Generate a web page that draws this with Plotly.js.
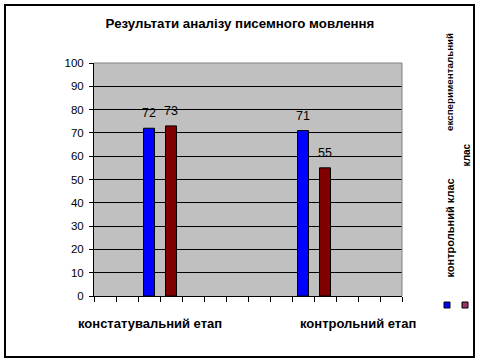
<!DOCTYPE html>
<html>
<head>
<meta charset="utf-8">
<script src="https://cdn.plot.ly/plotly-3.0.1.min.js"></script>
<style>
html,body{margin:0;padding:0;background:#fff;}
#chart{width:480px;height:363px;}
</style>
</head>
<body>
<div id="chart"></div>
<script>
// ---- data ----
const categories = ['констатувальний етап', 'контрольний етап'];
const seriesNames = ['контрольний клас', 'експериментальний клас'];
const controlClass = [72, 71];
const experimentalClass = [73, 55];
const yTicks = [0,10,20,30,40,50,60,70,80,90,100];

// ---- layout helpers (positions on a 14-slot category axis) ----
const controlSlots = [2.5, 9.5];
const experimentalSlots = [3.5, 10.5];
const categoryLabelX = [2.55, 12.0];

const FONT = 'Liberation Sans, Arial, sans-serif';

const traces = [
  {
    type: 'bar', name: seriesNames[0], x: controlSlots, y: controlClass,
    width: 0.5, marker: {color: '#0000FF', line: {color: '#000', width: 1}},
    hoverinfo: 'skip'
  },
  {
    type: 'bar', name: seriesNames[1], x: experimentalSlots, y: experimentalClass,
    width: 0.5, marker: {color: '#800000', line: {color: '#000', width: 1}},
    hoverinfo: 'skip'
  }
];

const annotations = [];
// value labels above bars
[[controlSlots, controlClass], [experimentalSlots, experimentalClass]].forEach(([xs, ys]) => {
  ys.forEach((v, i) => annotations.push({
    text: String(v), x: xs[i], y: v, xref: 'x', yref: 'y',
    yanchor: 'middle', yshift: 15, showarrow: false,
    font: {family: FONT, size: 12.5, color: '#000'}
  }));
});

const px = v => (v - 94) / 308;
const py = v => (296 - v) / 233;

categories.forEach((c, i) => annotations.push({
  text: '<b>' + c + '</b>', x: categoryLabelX[i], xref: 'x',
  y: py(323), yref: 'paper', yanchor: 'middle', showarrow: false,
  font: {family: FONT, size: 13, color: '#000'}
}));

// legend texts (rotated)
const expWords = seriesNames[1].split(' ');
annotations.push({
  text: '<b>' + seriesNames[0] + '</b>', textangle: -90, xref: 'paper', yref: 'paper',
  x: px(449), y: py(280), xanchor: 'center', yanchor: 'bottom', showarrow: false,
  font: {family: FONT, size: 11, color: '#000'}
});
annotations.push({
  text: '<b>' + expWords[0] + '</b>', textangle: -90, xref: 'paper', yref: 'paper',
  x: px(449), y: py(133), xanchor: 'center', yanchor: 'bottom', showarrow: false,
  font: {family: FONT, size: 9.8, color: '#000'}
});
annotations.push({
  text: '<b>' + expWords[1] + '</b>', textangle: -90, xref: 'paper', yref: 'paper',
  x: px(466), y: py(169), xanchor: 'center', yanchor: 'bottom', showarrow: false,
  font: {family: FONT, size: 10, color: '#000'}
});

const shapes = [
  // outer chart border
  {type: 'rect', xref: 'paper', yref: 'paper', x0: px(5), x1: px(474), y0: py(5), y1: py(357),
   line: {color: '#000', width: 2}},
  // plot area top/right border
  {type: 'line', xref: 'paper', yref: 'paper', x0: 0, x1: 1, y0: 1, y1: 1, line: {color: '#808080', width: 1}},
  {type: 'line', xref: 'paper', yref: 'paper', x0: 1, x1: 1, y0: 0, y1: 1, line: {color: '#808080', width: 1}},
  // legend keys
  {type: 'rect', xref: 'paper', yref: 'paper', x0: px(444), x1: px(450), y0: py(308), y1: py(302),
   fillcolor: '#0000FF', line: {color: '#000', width: 1}},
  {type: 'rect', xref: 'paper', yref: 'paper', x0: px(462), x1: px(468), y0: py(308), y1: py(302),
   fillcolor: '#993366', line: {color: '#000', width: 1}}
];

const layout = {
  width: 480, height: 363,
  margin: {l: 94, r: 78, t: 63, b: 67, pad: 0},
  paper_bgcolor: '#fff', plot_bgcolor: '#C0C0C0',
  showlegend: false,
  title: {text: '<b>Результати аналізу писемного мовлення</b>', x: 0.5, xref: 'container',
          xanchor: 'center', y: 1 - 23/363, yanchor: 'middle', yref: 'container',
          font: {family: FONT, size: 13.3, color: '#000'}},
  xaxis: {type: 'linear', range: [0, 14], tickmode: 'linear', tick0: 0, dtick: 1,
          ticks: 'outside', ticklen: 5, tickcolor: '#000', tickwidth: 1,
          showticklabels: false, showgrid: false, zeroline: false,
          showline: true, linecolor: '#000', linewidth: 1, fixedrange: true},
  yaxis: {range: [0, 100], tickvals: yTicks, ticktext: yTicks.map(String),
          ticks: 'outside', ticklen: 4, tickcolor: '#000', tickwidth: 1,
          showgrid: true, gridcolor: '#000', gridwidth: 1, zeroline: false,
          showline: true, linecolor: '#000', linewidth: 1,
          tickfont: {family: FONT, size: 11.5, color: '#000'}, ticklabelstandoff: 3, fixedrange: true},
  bargap: 0, annotations: annotations, shapes: shapes,
  font: {family: FONT}
};

Plotly.newPlot('chart', traces, layout, {displayModeBar: false, staticPlot: true});
</script>
</body>
</html>
